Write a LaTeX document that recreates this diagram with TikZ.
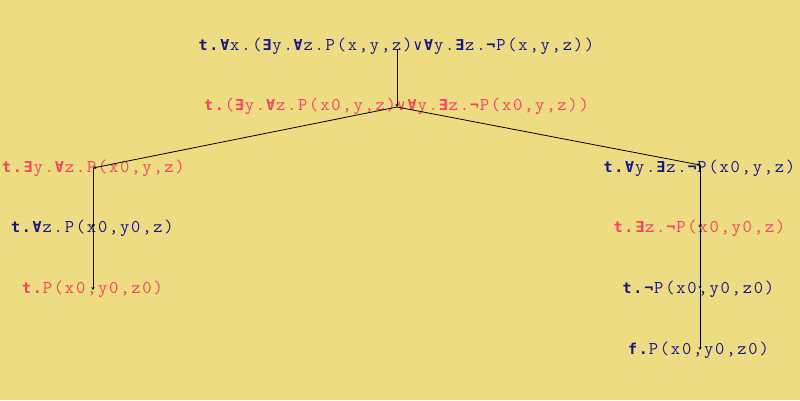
\documentclass[tikz,border=0pt]{standalone}
\usepackage{fontspec}
\newfontfamily\symfont{DejaVu Sans Mono}
\newfontfamily\ttrm[LetterSpace=10]{Latin Modern Mono}
\usetikzlibrary{arrows.meta}
\definecolor{bg}{RGB}{238,220,130}
\definecolor{tblue}{RGB}{22,22,140}
\definecolor{tred}{RGB}{255,64,96}
\newlength{\cw}
\setlength{\cw}{10.8pt}
\newcommand{\sy}[1]{\makebox[\cw][c]{\symfont\bfseries\fontsize{15}{18}\selectfont #1}}
\newcommand{\tT}{\sy{t}\sy{.}}
\newcommand{\tF}{\sy{f}\sy{.}}
\newcommand{\qA}{\sy{∀}}
\newcommand{\qE}{\sy{∃}}
\newcommand{\qN}{\sy{¬}}
\newcommand{\qOr}{\makebox[\cw][c]{\symfont\fontsize{15}{18}\selectfont ∨}}
\tikzset{
  fml/.style={inner sep=0pt, font=\ttrm\fontsize{18}{20}\selectfont},
  bl/.style={fml, text=tblue},
  rd/.style={fml, text=tred},
  lnk/.style={draw=black, line width=0.8pt, -{Stealth[length=3pt,width=3pt]}}
}
\begin{document}
\begin{tikzpicture}[x=1pt,y=-1pt]
\fill[bg] (0,0) rectangle (800,400);
\useasboundingbox (0,0) rectangle (800,400);
\node[bl] (r)  at (396,46)  {\tT\qA x.(\qE y.\qA z.P(x,y,z)\qOr\qA y.\qE z.\qN P(x,y,z))};
\node[rd] (n)  at (396,106) {\tT(\qE y.\qA z.P(x0,y,z)\qOr\qA y.\qE z.\qN P(x0,y,z))};
\node[rd] (l1) at (93,168)  {\tT\qE y.\qA z.P(x0,y,z)};
\node[bl] (l2) at (92,228)  {\tT\qA z.P(x0,y0,z)};
\node[rd] (l3) at (92,289)  {\tT P(x0,y0,z0)};
\node[bl] (q1) at (699,168) {\tT\qA y.\qE z.\qN P(x0,y,z)};
\node[rd] (q2) at (699,228) {\tT\qE z.\qN P(x0,y0,z)};
\node[bl] (q3) at (698,289) {\tT\qN P(x0,y0,z0)};
\node[bl] (q4) at (698,350) {\tF P(x0,y0,z0)};
\coordinate (rc) at (397,50);
\coordinate (nc) at (397,107);
\coordinate (l1c) at (93,168);
\coordinate (l2c) at (93,228);
\coordinate (l3c) at (93,290);
\coordinate (q1c) at (700,165);
\coordinate (q2c) at (700,228);
\coordinate (q3c) at (700,289);
\coordinate (q4c) at (700,350);
\draw[lnk] (rc) -- (nc);
\draw[lnk] (nc) -- (l1c);
\draw[lnk] (nc) -- (q1c);
\draw[lnk] (l1c) -- (l2c);
\draw[lnk] (l2c) -- (l3c);
\draw[lnk] (q1c) -- (q2c);
\draw[lnk] (q2c) -- (q3c);
\draw[lnk] (q3c) -- (q4c);
\end{tikzpicture}
\end{document}
